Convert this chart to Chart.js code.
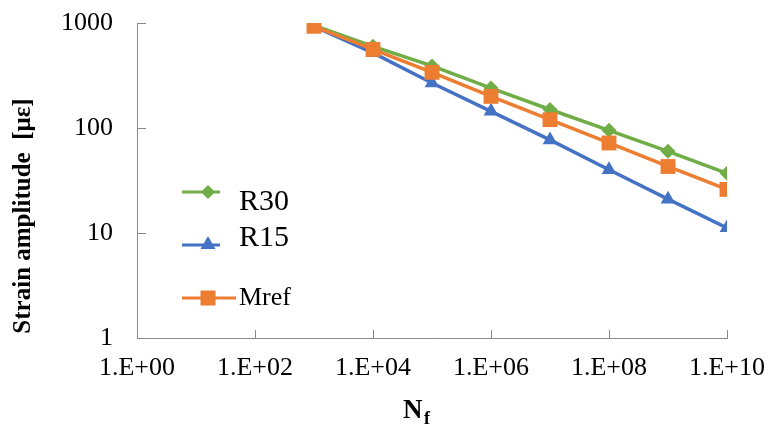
<!DOCTYPE html>
<html lang="en">
<head>
    <meta charset="UTF-8">
    <title>Strain amplitude vs Nf</title>
    <script src="https://cdn.jsdelivr.net/npm/chart.js"></script>
    <style>
        body {
            margin: 0;
            background: white;
        }
        .chart-box {
            width: 769px;
            height: 437px;
            position: relative;
        }
    </style>
</head>
<body>
    <div class="chart-box">
        <canvas id="snChart"></canvas>
    </div>

    <script>
        // cycles to failure and strain amplitude
        const nf = [1e3, 1e4, 1e5, 1e6, 1e7, 1e8, 1e9, 1e10];
        const r30 = [950, 600, 390, 240, 150, 95, 60, 37];
        const r15 = [930, 520, 268, 144, 77, 40, 21, 11.2];
        const mref = [930, 560, 339, 200, 120, 72, 43, 26];

        const xTicks = [1, 1e2, 1e4, 1e6, 1e8, 1e10];
        const yTicks = [1, 10, 100, 1000];

        const serif = "'Liberation Serif', 'Times New Roman', serif";
        const axisGray = '#898989';

        function pairs(values) {
            return nf.map((n, i) => ({ x: n, y: values[i] }));
        }

        function sciLabel(v) {
            const e = Math.round(Math.log10(v));
            return '1.E+' + (e < 10 ? '0' + e : e);
        }

        // ticks inside the plot, axis titles and the hand placed legend
        const extras = {
            id: 'extras',
            afterDraw(chart) {
                const ctx = chart.ctx;
                const xs = chart.scales.x;
                const ys = chart.scales.y;
                const area = chart.chartArea;

                ctx.save();
                ctx.strokeStyle = axisGray;
                ctx.lineWidth = 1;
                xTicks.slice(1).forEach(v => {
                    const px = Math.round(xs.getPixelForValue(v)) + 0.5;
                    ctx.beginPath();
                    ctx.moveTo(px, area.bottom);
                    ctx.lineTo(px, area.bottom - 8);
                    ctx.stroke();
                });
                yTicks.slice(1).forEach(v => {
                    const py = Math.round(ys.getPixelForValue(v)) + 0.5;
                    ctx.beginPath();
                    ctx.moveTo(area.left, py);
                    ctx.lineTo(area.left + 9, py);
                    ctx.stroke();
                });

                // y title
                ctx.fillStyle = '#000';
                ctx.font = 'bold 25px ' + serif;
                ctx.textAlign = 'center';
                ctx.textBaseline = 'middle';
                ctx.translate(24, 216);
                ctx.rotate(-Math.PI / 2);
                ctx.fillText('Strain amplitude  [\u03bc\u03b5]', 0, 0);
                ctx.restore();

                // x title N with subscript f
                ctx.save();
                ctx.fillStyle = '#000';
                ctx.textBaseline = 'alphabetic';
                ctx.font = 'bold 27px ' + serif;
                ctx.fillText('N', 403, 418);
                ctx.font = 'bold 18px ' + serif;
                ctx.fillText('f', 424, 424);
                ctx.restore();

                // legend
                const items = [
                    { label: 'R30', color: '#70AD47', shape: 'diamond', y: 192, ty: 202, size: 30, x2: 220 },
                    { label: 'R15', color: '#4472C4', shape: 'triangle', y: 245, ty: 238, size: 30, x2: 220 },
                    { label: 'Mref', color: '#ED7D31', shape: 'square', y: 298, ty: 298, size: 26, x2: 236 }
                ];
                items.forEach(it => {
                    ctx.save();
                    ctx.strokeStyle = it.color;
                    ctx.fillStyle = it.color;
                    ctx.lineWidth = 3;
                    ctx.beginPath();
                    ctx.moveTo(182, it.y);
                    ctx.lineTo(it.x2, it.y);
                    ctx.stroke();
                    const cx = 208;
                    ctx.beginPath();
                    if (it.shape === 'diamond') {
                        ctx.moveTo(cx, it.y - 7);
                        ctx.lineTo(cx + 7, it.y);
                        ctx.lineTo(cx, it.y + 7);
                        ctx.lineTo(cx - 7, it.y);
                    } else if (it.shape === 'triangle') {
                        ctx.moveTo(cx, it.y - 9);
                        ctx.lineTo(cx + 7.5, it.y + 4);
                        ctx.lineTo(cx - 7.5, it.y + 4);
                    } else {
                        ctx.rect(cx - 7.5, it.y - 7.5, 15, 15);
                    }
                    ctx.closePath();
                    ctx.fill();
                    ctx.fillStyle = '#000';
                    ctx.font = it.size + 'px ' + serif;
                    ctx.textAlign = 'left';
                    ctx.textBaseline = 'middle';
                    ctx.fillText(it.label, 239, it.ty);
                    ctx.restore();
                });
            }
        };

        new Chart(document.getElementById('snChart'), {
            type: 'line',
            data: {
                datasets: [
                    {
                        label: 'Mref',
                        data: pairs(mref),
                        borderColor: '#ED7D31',
                        backgroundColor: '#ED7D31',
                        pointStyle: 'rect',
                        pointRadius: 10.5,
                        pointBorderWidth: 0
                    },
                    {
                        label: 'R15',
                        data: pairs(r15),
                        borderColor: '#4472C4',
                        backgroundColor: '#4472C4',
                        pointStyle: 'triangle',
                        pointRadius: 8.5,
                        pointBorderWidth: 0
                    },
                    {
                        label: 'R30',
                        data: pairs(r30),
                        borderColor: '#70AD47',
                        backgroundColor: '#70AD47',
                        pointStyle: 'rectRot',
                        pointRadius: 7.5,
                        pointBorderWidth: 0
                    }
                ]
            },
            options: {
                responsive: true,
                maintainAspectRatio: false,
                animation: false,
                elements: {
                    line: { borderWidth: 3.5, tension: 0 }
                },
                layout: {
                    padding: { left: 0, top: 23, right: 42, bottom: 0 }
                },
                plugins: {
                    legend: { display: false },
                    title: { display: false },
                    tooltip: { enabled: false }
                },
                scales: {
                    x: {
                        type: 'logarithmic',
                        min: 1,
                        max: 1e10,
                        afterBuildTicks(scale) {
                            scale.ticks = xTicks.map(v => ({ value: v }));
                        },
                        afterFit(scale) {
                            scale.height = 99;
                            scale.paddingLeft = 0;
                            scale.paddingRight = 0;
                        },
                        grid: { display: true, drawOnChartArea: false, drawTicks: false },
                        border: { display: true, color: axisGray, width: 1 },
                        ticks: {
                            autoSkip: false,
                            maxRotation: 0,
                            padding: 15,
                            color: '#000',
                            font: { family: serif, size: 26 },
                            callback: v => sciLabel(v)
                        }
                    },
                    y: {
                        type: 'logarithmic',
                        min: 1,
                        max: 1000,
                        afterBuildTicks(scale) {
                            scale.ticks = yTicks.map(v => ({ value: v }));
                        },
                        afterFit(scale) {
                            scale.width = 137;
                            scale.paddingTop = 0;
                            scale.paddingBottom = 0;
                        },
                        grid: { display: true, drawOnChartArea: false, drawTicks: false },
                        border: { display: true, color: axisGray, width: 1 },
                        ticks: {
                            autoSkip: false,
                            padding: 24,
                            color: '#000',
                            font: { family: serif, size: 26 },
                            callback: v => String(v)
                        }
                    }
                }
            },
            plugins: [extras]
        });
    </script>
</body>
</html>
